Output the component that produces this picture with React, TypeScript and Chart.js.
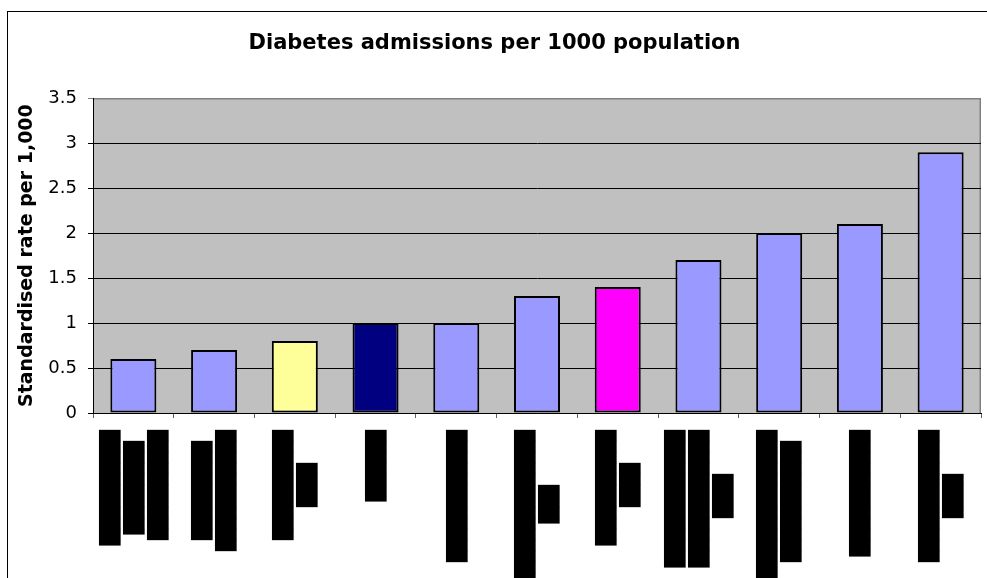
import React, { useEffect, useRef } from "react";
import { Chart, registerables } from "chart.js";

Chart.register(...registerables);

const chartTitle = "Diabetes admissions per 1000 population";
const yAxisTitle = "Standardised rate per 1,000";

// Category names are redacted in the source picture (black blocks); kept as block-character text.
// Each label uses half-line slots so that its columns are centred under the category.
const categoryLabels: string[][] = [
  ["▐██████████", "", "▐████████ ", "", "██████████"],
  ["", "█████████ ", "", "███████████"],
  ["", "██████████", "", "████   "],
  ["", "", "▐██████"],
  ["", "", "████████████"],
  ["", "██████████████", "", "▐███     "],
  ["", "▐██████████", "", "████   "],
  ["▐████████████", "", "▐████████████", "", "████    "],
  ["", "██████████████", "", "███████████ "],
  ["", "", "▐███████████"],
  ["", "████████████", "", "████    "],
];

const rates = [0.6, 0.7, 0.8, 1.0, 1.0, 1.3, 1.4, 1.7, 2.0, 2.1, 2.9];

const barColors = [
  "#9999FF",
  "#9999FF",
  "#FFFF99",
  "#000080",
  "#9999FF",
  "#9999FF",
  "#FF00FF",
  "#9999FF",
  "#9999FF",
  "#9999FF",
  "#9999FF",
];

const yMin = 0;
const yMax = 3.5;
const yStep = 0.5;

const plotBackground = {
  id: "plotBackground",
  beforeDraw(chart: any) {
    const { ctx, chartArea } = chart;
    const { left, top, right, bottom } = chartArea;
    ctx.save();
    ctx.fillStyle = "#C0C0C0";
    ctx.fillRect(left, top, right - left, bottom - top);
    ctx.strokeStyle = "#808080";
    ctx.lineWidth = 1.5;
    ctx.beginPath();
    ctx.moveTo(left, top + 0.5);
    ctx.lineTo(right - 0.75, top + 0.5);
    ctx.lineTo(right - 0.75, bottom);
    ctx.stroke();
    ctx.restore();
  },
};

export default function App() {
  const canvasRef = useRef<HTMLCanvasElement | null>(null);

  useEffect(() => {
    if (!canvasRef.current) return;
    const chart = new Chart(canvasRef.current, {
      type: "bar",
      data: {
        labels: categoryLabels,
        datasets: [
          {
            data: rates,
            backgroundColor: barColors,
            borderColor: "#000000",
            borderWidth: 2,
            borderSkipped: false,
            barPercentage: 0.57,
            categoryPercentage: 1,
          },
        ],
      },
      options: {
        responsive: false,
        animation: false,
        devicePixelRatio: 1,
        layout: { padding: { top: 10, left: 8, right: 6, bottom: 0 } },
        plugins: {
          legend: { display: false },
          tooltip: { enabled: false },
          title: {
            display: true,
            text: chartTitle,
            color: "#000000",
            font: { family: "'DejaVu Sans', sans-serif", size: 21, weight: "bold" },
            padding: { top: 21, bottom: 42 },
          },
        },
        scales: {
          x: {
            afterFit: (scale: any) => {
              scale.height = 165;
              scale.paddingLeft = 0;
              scale.paddingRight = 0;
            },
            grid: {
              offset: true,
              drawOnChartArea: false,
              drawTicks: true,
              tickLength: 5,
              color: "#666666",
            },
            border: { display: true, color: "#000000", width: 1 },
            ticks: {
              autoSkip: false,
              minRotation: 90,
              maxRotation: 90,
              padding: 12,
              labelOffset: -22.5,
              color: "#000000",
              font: { family: "'DejaVu Sans Mono', monospace", size: 18.27, lineHeight: "12px" },
            },
          },
          y: {
            min: yMin,
            max: yMax,
            afterFit: (scale: any) => {
              scale.width = 85;
            },
            grid: {
              color: (ctx: any) => (ctx.tick && ctx.tick.value === yMax ? "#808080" : "#000000"),
              lineWidth: 1,
              drawTicks: true,
              tickLength: 5,
            },
            border: { display: true, color: "#000000", width: 1 },
            ticks: {
              stepSize: yStep,
              padding: 11,
              color: "#000000",
              font: { family: "'DejaVu Sans', sans-serif", size: 18 },
              callback: (value: any) => String(value),
            },
            title: {
              display: true,
              text: yAxisTitle,
              color: "#000000",
              font: { family: "'DejaVu Sans', sans-serif", size: 19, weight: "bold" },
              padding: { top: 7.6, bottom: 0 },
            },
          },
        },
      },
      plugins: [plotBackground],
    });
    return () => chart.destroy();
  }, []);

  return (
    <div
      style={{
        position: "fixed",
        left: 0,
        top: 0,
        width: 987,
        height: 578,
        overflow: "hidden",
        background: "#ffffff",
      }}
    >
      <div
        style={{
          position: "absolute",
          left: 7,
          top: 11,
          width: 1000,
          height: 620,
          border: "1px solid #000000",
          boxSizing: "border-box",
        }}
      />
      <canvas
        ref={canvasRef}
        width={987}
        height={578}
        style={{ position: "absolute", left: 0, top: 0, width: 987, height: 578 }}
      />
    </div>
  );
}
